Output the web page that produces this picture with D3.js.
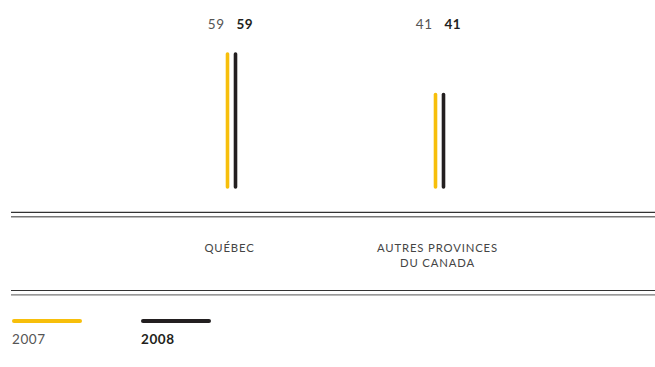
<!DOCTYPE html>
<html>
<head>
<meta charset="utf-8">
<script src="https://cdn.jsdelivr.net/npm/d3@7"></script>
<style>
  html, body { margin: 0; padding: 0; background: #fff; }
  svg { display: block; font-family: Lato, "Noto Sans", sans-serif; }
</style>
</head>
<body>
<svg id="chart" width="655" height="367"></svg>
<script>
// Répartition (%) par région
const categories = ["QUÉBEC", "AUTRES PROVINCES|DU CANADA"];
const years = ["2007", "2008"];
const values2007 = [59, 41];
const values2008 = [59, 41];
const colors = ["#f7bf0b", "#231f20"];

const svg = d3.select("#chart");

const x = d3.scaleBand().domain(categories).range([127.5, 543.5]).padding(0);
const yearOffset = d3.scalePoint().domain(years).range([-4, 4]);
const y = d3.scaleLinear().domain([0, 59]).range([187, 54]);

const series = [values2007, values2008];

// Bars drawn as thick vertical strokes
series.forEach((vals, si) => {
  svg.append("g").selectAll("line")
    .data(vals)
    .join("line")
    .attr("x1", (d, i) => x(categories[i]) + x.bandwidth() / 2 + yearOffset(years[si]))
    .attr("x2", (d, i) => x(categories[i]) + x.bandwidth() / 2 + yearOffset(years[si]))
    .attr("y1", y(0))
    .attr("y2", d => y(d))
    .attr("stroke", colors[si])
    .attr("stroke-width", 3.6)
    .attr("stroke-linecap", "round");

  // Value labels above
  svg.append("g").selectAll("text")
    .data(vals)
    .join("text")
    .attr("x", (d, i) => x(categories[i]) + x.bandwidth() / 2 + (si === 0 ? -7 : 5))
    .attr("y", 29)
    .attr("text-anchor", si === 0 ? "end" : "start")
    .attr("font-size", 13.5)
    .attr("font-weight", si === 0 ? 400 : 700)
    .attr("fill", si === 0 ? "#555" : "#231f20")
    .attr("letter-spacing", 0.5)
    .text(d => d);
});

// Double rules framing the category band
function doubleRule(yTop) {
  svg.append("line").attr("x1", 11).attr("x2", 655)
    .attr("y1", yTop).attr("y2", yTop)
    .attr("stroke", "#333").attr("stroke-width", 1.2);
  svg.append("line").attr("x1", 11).attr("x2", 655)
    .attr("y1", yTop + 4.4).attr("y2", yTop + 4.4)
    .attr("stroke", "#777").attr("stroke-width", 1.4);
}
doubleRule(212.3);
doubleRule(290.5);

// Category labels
const catG = svg.append("g");
categories.forEach(c => {
  const lines = c.split("|");
  const cx = x(c) + x.bandwidth() / 2 - 2;
  const t = catG.append("text")
    .attr("x", cx)
    .attr("y", 251.5)
    .attr("text-anchor", "middle")
    .attr("font-size", 11.3)
    .attr("fill", "#444")
    .attr("letter-spacing", 0.85);
  lines.forEach((l, i) => {
    t.append("tspan")
      .attr("x", cx)
      .attr("dy", i === 0 ? 0 : 15.5)
      .text(l);
  });
});

// Legend
const legendX = d3.scalePoint().domain(years).range([13, 142]);
years.forEach((yr, i) => {
  svg.append("line")
    .attr("x1", legendX(yr) + 1).attr("x2", legendX(yr) + 67)
    .attr("y1", 321).attr("y2", 321)
    .attr("stroke", colors[i]).attr("stroke-width", 4)
    .attr("stroke-linecap", "round");
  svg.append("text")
    .attr("x", legendX(yr) - 1)
    .attr("y", 343.5)
    .attr("font-size", 13.5)
    .attr("font-weight", i === 0 ? 400 : 700)
    .attr("fill", i === 0 ? "#555" : "#231f20")
    .attr("letter-spacing", 0.6)
    .text(yr);
});
</script>
</body>
</html>
